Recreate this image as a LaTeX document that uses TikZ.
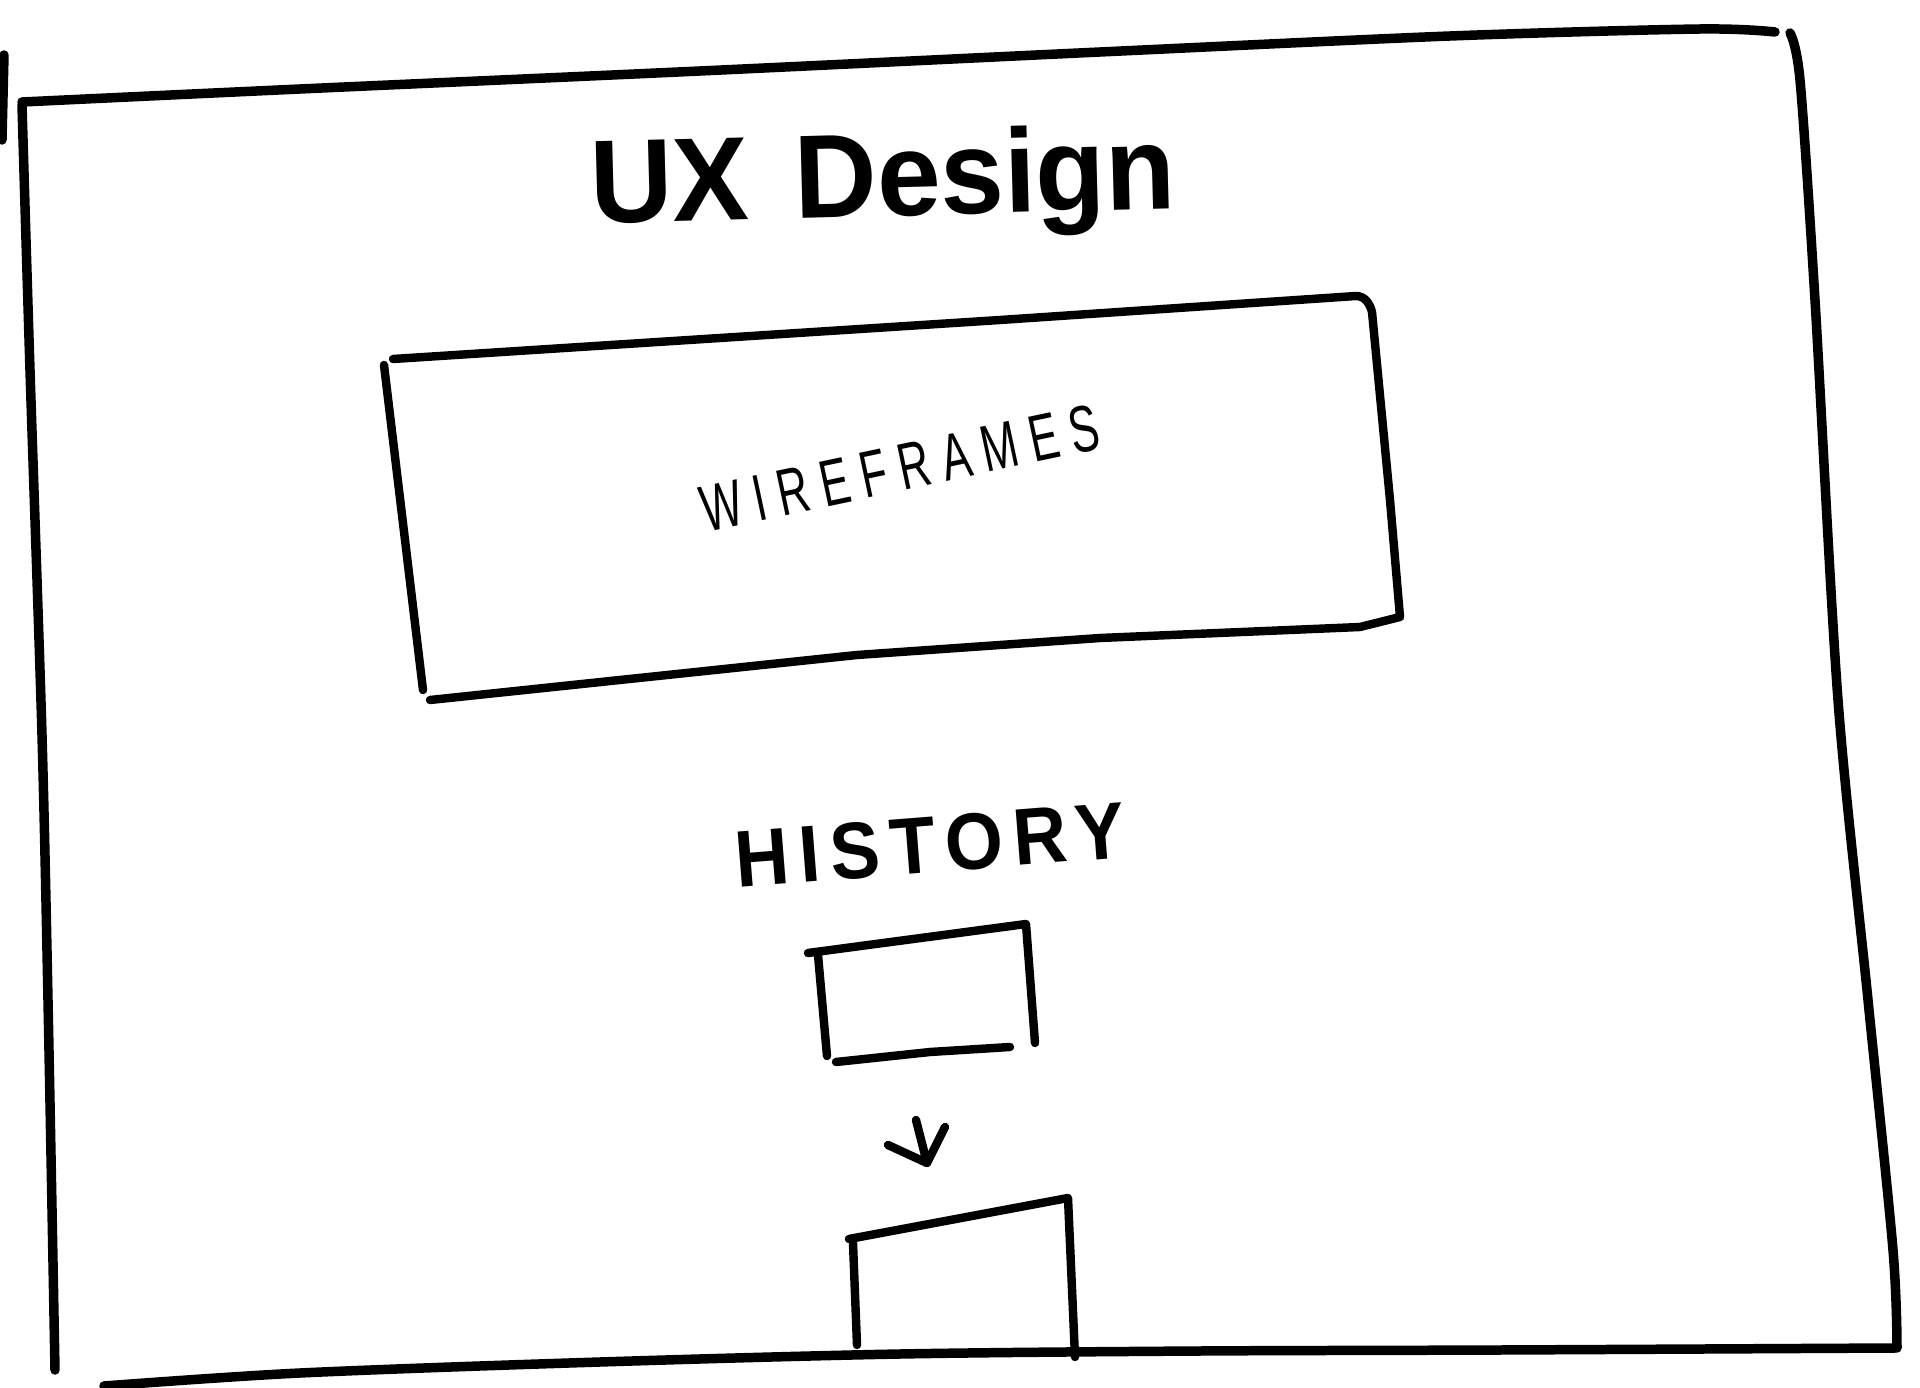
\documentclass[tikz,border=0pt]{standalone}
\usepackage{fontspec}
\setmainfont{Liberation Sans}
\newfontfamily\spacedfont[LetterSpace=28]{Liberation Sans}
\newfontfamily\spacedbold[LetterSpace=14,UprightFont=* Bold]{Liberation Sans}
\usepackage{graphicx}
\begin{document}
\begin{tikzpicture}[x=0.01cm,y=-0.01cm,
  pen/.style={line width=2.7pt,line cap=round,line join=round},
  thinpen/.style={line width=2.4pt,line cap=round,line join=round}]
\fill[white] (0,0) rectangle (1920,1388);
\useasboundingbox (0,0) rectangle (1920,1388);

% outer frame
\draw[pen] plot[smooth] coordinates {(22,102) (300,89) (700,71) (1100,52) (1450,36) (1700,29) (1775,32)};
\draw[pen] plot[smooth] coordinates {(1790,33) (1800,80) (1815,300) (1838,700) (1868,1000) (1893,1250) (1897,1348)};
\draw[pen] plot[smooth] coordinates {(104,1386) (300,1373) (600,1362) (900,1354) (1200,1351) (1500,1350) (1895,1348)};
\draw[pen] plot[smooth] coordinates {(22,105) (30,370) (42,735) (48,1000) (55,1370)};
\draw[pen] (4,55) -- (2,140);

% wireframe box
\draw[thinpen] (393,359) -- (1000,320) -- (1356,296) to[out=0,in=105] (1372,312) -- (1390,500) -- (1400,617)
  -- (1360,627) -- (1100,638) -- (857,655) -- (430,700);
\draw[thinpen] (384,365) -- (423,690);
\node[rotate=12] (wire) at (900,468) {\resizebox{40.5mm}{4.6mm}{\spacedfont WIREFRAMES}};

% title
\node[anchor=base,rotate=1.5] (title) at (884,216) {\resizebox{58.5mm}{8.6mm}{\bfseries UX\hspace{0.4em}Design}};

% history
\node[rotate=4.5] (hist) at (930,845) {\resizebox{39mm}{5.6mm}{\spacedbold HISTORY}};

% history box 1
\draw[thinpen] (808,953) -- (1026,924) -- (1035,1043);
\draw[thinpen] (818,955) -- (827,1056);
\draw[thinpen] (836,1062) -- (930,1052) -- (1010,1047);

% arrow
\coordinate (atip) at (927,1163);
\coordinate (atop) at (916,1120);
\coordinate (al) at (888,1145);
\coordinate (ar) at (945,1127);
\draw[thinpen] (atop) -- (atip);
\draw[thinpen] (al) -- (atip) -- (ar);

% history box 2
\draw[thinpen] (849,1239) -- (1068,1198) -- (1075,1357);
\draw[thinpen] (853,1243) -- (857,1345);
\end{tikzpicture}
\end{document}
